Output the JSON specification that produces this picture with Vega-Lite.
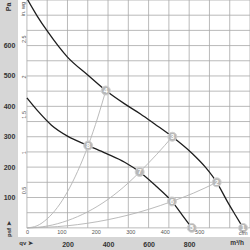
{
  "$schema": "https://vega.github.io/schema/vega-lite/v6.json",
  "width": 232,
  "height": 237,
  "autosize": "none",
  "padding": {"left": 18, "top": 0, "right": 0, "bottom": 13},
  "background": "#d6d6d6",
  "config": {
    "view": {"fill": "#ffffff", "stroke": null},
    "font": "Liberation Sans",
    "axis": {"grid": false, "ticks": false, "domain": false, "title": null, "labelFlush": false}
  },
  "datasets": {
    "gx": [{"m3h": 0}, {"m3h": 100}, {"m3h": 200}, {"m3h": 300}, {"m3h": 400}, {"m3h": 500}, {"m3h": 600}, {"m3h": 700}, {"m3h": 800}, {"m3h": 900}, {"m3h": 1000}, {"m3h": 1100}],
    "gy": [{"pa": 0}, {"pa": 50}, {"pa": 100}, {"pa": 150}, {"pa": 200}, {"pa": 250}, {"pa": 300}, {"pa": 350}, {"pa": 400}, {"pa": 450}, {"pa": 500}, {"pa": 550}, {"pa": 600}, {"pa": 650}, {"pa": 700}, {"pa": 750}],
    "sys": [
      {"s": "A", "q": 0, "p": 0}, {"s": "A", "q": 50, "p": 7}, {"s": "A", "q": 100, "p": 30}, {"s": "A", "q": 150, "p": 67}, {"s": "A", "q": 200, "p": 119}, {"s": "A", "q": 250, "p": 186}, {"s": "A", "q": 302, "p": 271}, {"s": "A", "q": 350, "p": 365}, {"s": "A", "q": 389, "p": 452},
      {"s": "B", "q": 0, "p": 0}, {"s": "B", "q": 100, "p": 6}, {"s": "B", "q": 200, "p": 24}, {"s": "B", "q": 300, "p": 53}, {"s": "B", "q": 400, "p": 94}, {"s": "B", "q": 500, "p": 148}, {"s": "B", "q": 556, "p": 184}, {"s": "B", "q": 640, "p": 242}, {"s": "B", "q": 717, "p": 300},
      {"s": "C", "q": 0, "p": 0}, {"s": "C", "q": 200, "p": 7}, {"s": "C", "q": 400, "p": 27}, {"s": "C", "q": 600, "p": 61}, {"s": "C", "q": 715, "p": 87}, {"s": "C", "q": 820, "p": 114}, {"s": "C", "q": 936, "p": 150}
    ],
    "fan": [
      {"c": "high", "q": 0, "p": 755}, {"c": "high", "q": 50, "p": 698}, {"c": "high", "q": 100, "p": 648}, {"c": "high", "q": 200, "p": 562}, {"c": "high", "q": 300, "p": 503}, {"c": "high", "q": 389, "p": 452}, {"c": "high", "q": 482, "p": 408}, {"c": "high", "q": 560, "p": 375}, {"c": "high", "q": 630, "p": 342}, {"c": "high", "q": 717, "p": 300}, {"c": "high", "q": 815, "p": 245}, {"c": "high", "q": 880, "p": 200}, {"c": "high", "q": 936, "p": 150}, {"c": "high", "q": 990, "p": 85}, {"c": "high", "q": 1030, "p": 40}, {"c": "high", "q": 1066, "p": 0},
      {"c": "low", "q": 0, "p": 428}, {"c": "low", "q": 60, "p": 380}, {"c": "low", "q": 121, "p": 338}, {"c": "low", "q": 200, "p": 302}, {"c": "low", "q": 302, "p": 271}, {"c": "low", "q": 390, "p": 245}, {"c": "low", "q": 482, "p": 216}, {"c": "low", "q": 556, "p": 184}, {"c": "low", "q": 636, "p": 138}, {"c": "low", "q": 715, "p": 87}, {"c": "low", "q": 765, "p": 43}, {"c": "low", "q": 813, "p": 0}
    ],
    "pts": [
      {"n": "1", "q": 1066, "p": 0}, {"n": "2", "q": 936, "p": 150}, {"n": "3", "q": 717, "p": 300}, {"n": "4", "q": 389, "p": 452},
      {"n": "5", "q": 813, "p": 0}, {"n": "6", "q": 715, "p": 87}, {"n": "7", "q": 556, "p": 184}, {"n": "8", "q": 302, "p": 271}
    ]
  },
  "layer": [
    {
      "layer": [
        {
          "data": {"name": "gx"},
          "mark": {"type": "rule", "color": "#a8a8a8", "strokeWidth": 0.8},
          "encoding": {
            "x": {"field": "m3h", "type": "quantitative", "scale": {"domain": [-44, 1100], "nice": false, "zero": false},
              "axis": {"orient": "bottom", "values": [200, 400, 600, 800], "labelFontSize": 7, "labelFontWeight": "bold", "labelColor": "#333333", "labelPadding": 3}},
            "y": {"datum": 0, "type": "quantitative", "scale": {"domain": [-30, 750], "nice": false, "zero": false},
              "axis": {"orient": "left", "values": [100, 200, 300, 400, 500, 600], "format": "d", "labelFontSize": 7, "labelFontWeight": "bold", "labelColor": "#333333", "labelAlign": "center", "labelBaseline": "middle", "labelPadding": 9}},
            "y2": {"datum": 750}
          }
        },
        {
          "data": {"name": "gy"},
          "mark": {"type": "rule", "color": "#a8a8a8", "strokeWidth": 0.8},
          "encoding": {
            "y": {"field": "pa", "type": "quantitative", "scale": {"domain": [-30, 750], "nice": false, "zero": false}},
            "x": {"datum": 0, "type": "quantitative", "scale": {"domain": [-44, 1100], "nice": false, "zero": false}},
            "x2": {"datum": 1100}
          }
        },
        {
          "data": {"name": "sys"},
          "mark": {"type": "line", "color": "#b3b3b3", "strokeWidth": 0.9, "interpolate": "monotone", "clip": true},
          "encoding": {
            "x": {"field": "q", "type": "quantitative"},
            "y": {"field": "p", "type": "quantitative"},
            "detail": {"field": "s"}
          }
        },
        {
          "data": {"name": "fan"},
          "mark": {"type": "line", "color": "#1e1e1e", "strokeWidth": 1.3, "interpolate": "monotone", "clip": true},
          "encoding": {
            "x": {"field": "q", "type": "quantitative"},
            "y": {"field": "p", "type": "quantitative"},
            "detail": {"field": "c"}
          }
        },
        {
          "data": {"name": "pts"},
          "mark": {"type": "circle", "size": 80, "fill": "#b8b8b8", "stroke": "#d0d0d0", "strokeWidth": 1, "opacity": 1},
          "encoding": {
            "x": {"field": "q", "type": "quantitative"},
            "y": {"field": "p", "type": "quantitative"}
          }
        },
        {
          "data": {"name": "pts"},
          "mark": {"type": "text", "color": "#ffffff", "fontSize": 7, "fontWeight": "bold", "align": "center", "baseline": "middle", "dy": 0.5},
          "encoding": {
            "x": {"field": "q", "type": "quantitative"},
            "y": {"field": "p", "type": "quantitative"},
            "text": {"field": "n"}
          }
        },
        {
          "data": {"values": [{}]},
          "mark": {"type": "text", "text": "Pa", "angle": 270, "fontSize": 7, "fontWeight": "bold", "color": "#333333", "align": "center", "baseline": "middle"},
          "encoding": {"x": {"datum": -88}, "y": {"datum": 727}}
        },
        {
          "data": {"values": [{}]},
          "mark": {"type": "text", "text": "psf ➤", "angle": 270, "fontSize": 6, "fontWeight": "bold", "color": "#333333", "align": "center", "baseline": "middle"},
          "encoding": {"x": {"datum": -88}, "y": {"datum": -4}}
        },
        {
          "data": {"values": [{}]},
          "mark": {"type": "text", "text": "in. wg", "angle": 270, "fontSize": 5.5, "color": "#555555", "align": "center", "baseline": "middle"},
          "encoding": {"x": {"datum": -19}, "y": {"datum": 720}}
        },
        {
          "data": {"values": [{}]},
          "mark": {"type": "text", "text": "qv ➤", "fontSize": 6, "fontWeight": "bold", "color": "#333333", "align": "center", "baseline": "middle"},
          "encoding": {"x": {"datum": -4}, "y": {"datum": -50}}
        },
        {
          "data": {"values": [{}]},
          "mark": {"type": "text", "text": "m³/h", "fontSize": 6.5, "fontWeight": "bold", "color": "#333333", "align": "center", "baseline": "middle"},
          "encoding": {"x": {"datum": 1036}, "y": {"datum": -50}}
        },
        {
          "data": {"values": [{}]},
          "mark": {"type": "text", "text": "cfm", "fontSize": 5.5, "color": "#555555", "align": "center", "baseline": "middle"},
          "encoding": {"x": {"datum": 1066}, "y": {"datum": -18}}
        }
      ]
    },
    {
      "data": {"values": [{"cfm": 0}]},
      "mark": {"type": "point", "opacity": 0},
      "encoding": {
        "x": {"field": "cfm", "type": "quantitative", "scale": {"domain": [-25.9, 647.4], "nice": false, "zero": false},
          "axis": {"orient": "bottom", "offset": -9, "values": [0, 100, 200, 300, 400, 500], "labelFontSize": 5.5, "labelColor": "#555555", "labelPadding": 1}}
      }
    },
    {
      "data": {"values": [{"wg": 0}]},
      "mark": {"type": "point", "opacity": 0},
      "encoding": {
        "y": {"field": "wg", "type": "quantitative", "scale": {"domain": [-0.12044, 3.011], "nice": false, "zero": false},
          "axis": {"orient": "left", "offset": -9, "values": [0.5, 1, 1.5, 2, 2.5], "format": "~g", "labelAngle": -90, "labelFontSize": 5.5, "labelColor": "#555555", "labelPadding": 1}}
      }
    }
  ],
  "resolve": {"scale": {"x": "independent", "y": "independent"}}
}
